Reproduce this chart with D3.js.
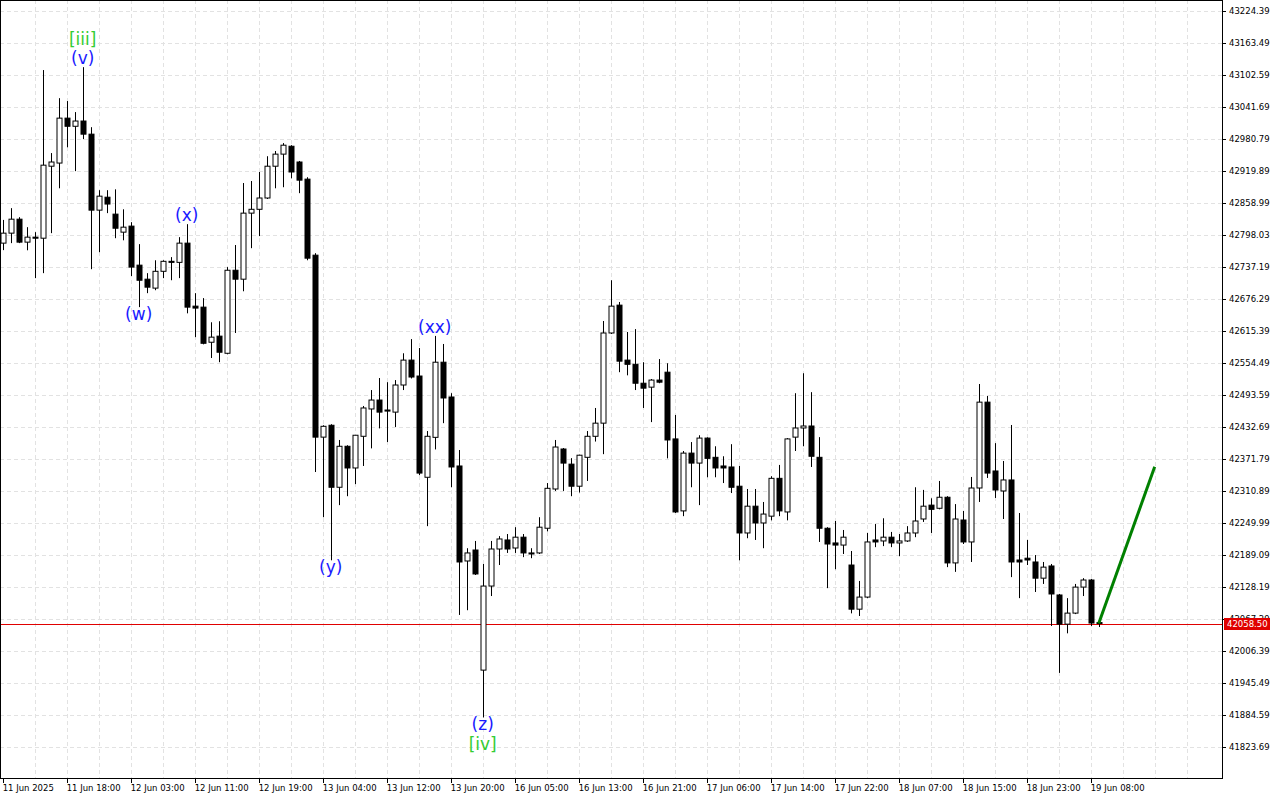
<!DOCTYPE html>
<html>
<head>
<meta charset="utf-8">
<script src="https://cdn.jsdelivr.net/npm/d3@7"></script>
<style>
  body { margin: 0; background: #fff; }
  svg text { font-family: "DejaVu Sans", sans-serif; }
</style>
</head>
<body>
<svg id="mainChart"></svg>
<script>
// Hourly candles, [open, high, low, close]
const candles = [
  [42782.6,42826.8,42769.3,42801.6],[42801.6,42849.2,42782.6,42828.2],[42828.2,42832.0,42782.6,42784.5],
  [42784.5,42813.0,42769.0,42794.0],[42794.0,42803.5,42716.0,42792.0],[42792.0,43112.0,42725.5,42931.0],
  [42929.0,42954.0,42801.6,42937.0],[42935.0,43058.5,42887.0,43020.5],[43020.5,43053.0,42965.0,43005.0],
  [43005.0,43032.0,42919.6,43015.0],[43015.0,43117.5,42980.5,42990.0],[42990.0,43003.3,42733.0,42845.4],
  [42845.4,42883.4,42765.4,42872.0],[42870.0,42883.4,42839.7,42857.0],[42837.8,42885.0,42792.0,42811.0],
  [42803.5,42847.0,42788.0,42813.0],[42815.0,42822.5,42720.0,42737.0],[42740.7,42780.7,42660.8,42712.0],
  [42714.0,42725.5,42687.4,42698.8],[42697.0,42750.0,42693.0,42729.0],[42729.0,42750.0,42716.0,42748.0],
  [42748.0,42756.0,42712.0,42746.0],[42746.0,42794.0,42716.0,42782.6],[42782.6,42818.7,42649.0,42660.8],
  [42662.7,42687.4,42603.7,42659.0],[42660.8,42678.0,42590.0,42592.0],[42594.0,42632.0,42564.0,42603.7],
  [42605.6,42634.0,42556.0,42575.0],[42573.0,42737.0,42571.0,42731.0],[42731.0,42779.0,42611.6,42714.0],
  [42714.0,42897.0,42691.0,42839.7],[42839.7,42900.8,42773.0,42847.0],[42847.0,42918.0,42796.0,42868.5],
  [42868.5,42948.0,42866.6,42929.0],[42929.0,42957.9,42887.0,42952.0],[42952.0,42973.0,42889.0,42969.0],
  [42967.0,42969.0,42906.0,42918.0],[42937.0,42939.0,42877.7,42902.5],[42904.4,42908.0,42750.0,42754.0],
  [42759.7,42763.5,42347.0,42413.4],[42413.4,42436.0,42261.0,42434.0],[42436.0,42438.0,42179.0,42318.0],
  [42318.0,42408.0,42284.0,42396.0],[42396.0,42398.0,42301.0,42354.7],[42354.7,42417.0,42324.0,42417.0],
  [42415.0,42472.7,42358.5,42468.9],[42467.0,42503.0,42392.0,42484.0],[42484.0,42525.9,42430.0,42461.0],
  [42465.0,42518.0,42404.0,42463.0],[42461.0,42522.0,42432.7,42512.6],[42512.6,42573.0,42503.0,42560.0],
  [42560.0,42600.0,42525.0,42527.8],[42529.7,42583.0,42341.0,42345.0],[42337.0,42425.0,42244.0,42415.0],
  [42413.0,42606.0,42390.0,42556.0],[42556.0,42590.7,42440.0,42487.9],[42489.8,42497.0,42318.0,42356.6],
  [42358.5,42388.9,42075.0,42175.8],[42177.7,42202.0,42084.0,42193.0],[42198.6,42215.8,42151.0,42153.0],
  [41970.0,42172.0,41880.0,42130.0],[42130.0,42215.8,42111.0,42200.5],[42200.5,42225.0,42170.0,42219.6],
  [42217.7,42229.0,42193.0,42200.5],[42202.4,42242.0,42193.0,42223.0],[42223.0,42229.0,42185.0,42193.0],
  [42193.0,42202.0,42183.0,42191.0],[42193.0,42261.0,42191.0,42242.0],[42240.0,42326.0,42234.0,42316.0],
  [42314.7,42408.0,42311.0,42394.6],[42390.8,42392.7,42311.0,42364.0],[42362.0,42373.4,42301.0,42320.0],
  [42320.0,42380.0,42308.0,42379.0],[42375.0,42425.0,42330.0,42415.0],[42415.0,42468.9,42405.0,42440.0],
  [42440.0,42634.4,42381.0,42611.6],[42611.6,42712.0,42609.7,42662.7],[42664.6,42670.6,42537.0,42558.0],
  [42560.0,42613.5,42531.0,42552.0],[42552.0,42619.0,42503.0,42516.0],[42516.0,42556.0,42468.9,42506.6],
  [42508.5,42524.0,42442.0,42522.0],[42522.0,42562.0,42516.0,42518.0],[42537.0,42554.0,42373.0,42408.0],
  [42410.0,42455.6,42269.0,42271.0],[42273.0,42387.0,42263.0,42383.0],[42383.0,42404.0,42318.0,42364.0],
  [42364.0,42417.0,42284.0,42411.6],[42411.6,42413.0,42337.0,42373.0],[42375.0,42396.0,42337.0,42354.7],
  [42358.5,42377.0,42326.0,42354.7],[42356.6,42400.0,42307.0,42318.0],[42320.0,42358.5,42179.0,42231.0],
  [42231.0,42314.7,42221.0,42282.0],[42282.0,42314.7,42217.7,42250.0],[42250.0,42290.0,42202.0,42267.0],
  [42263.0,42339.0,42255.0,42335.0],[42335.0,42360.5,42263.0,42273.0],[42271.0,42411.6,42255.0,42410.0],
  [42413.4,42497.0,42387.0,42430.8],[42430.8,42535.0,42396.0,42434.6],[42434.6,42499.0,42356.6,42377.0],
  [42375.0,42413.4,42213.9,42240.0],[42240.0,42242.0,42126.0,42210.0],[42212.0,42253.8,42162.0,42208.0],
  [42208.0,42236.7,42191.0,42223.0],[42170.0,42196.7,42078.0,42086.0],[42086.0,42139.7,42073.0,42109.0],
  [42109.0,42231.0,42107.0,42213.9],[42217.7,42248.0,42204.0,42213.9],[42215.8,42259.0,42206.0,42223.0],
  [42223.0,42233.0,42204.0,42212.0],[42212.0,42229.0,42187.0,42215.8],[42215.8,42244.0,42213.9,42231.0],
  [42231.0,42318.0,42223.0,42253.8],[42257.6,42313.0,42252.0,42282.0],[42284.0,42297.0,42231.0,42276.0],
  [42278.0,42330.0,42276.0,42299.0],[42299.0,42301.0,42166.0,42174.0],[42174.0,42286.0,42157.0,42257.6],
  [42255.7,42273.0,42210.0,42213.9],[42213.9,42337.6,42175.8,42316.6],[42316.6,42514.5,42290.0,42480.0],
  [42480.0,42491.7,42335.7,42345.0],[42349.0,42402.0,42297.6,42312.8],[42310.9,42368.0,42257.6,42331.9],
  [42331.9,42436.5,42147.0,42175.8],[42179.6,42269.0,42107.0,42175.8],[42183.0,42217.7,42170.0,42179.6],
  [42175.8,42189.0,42118.7,42145.0],[42145.0,42175.8,42134.0,42166.0],[42168.2,42172.0,42054.0,42114.9],
  [42113.0,42115.0,41964.7,42057.5],[42057.5,42107.0,42040.0,42078.5],[42078.5,42134.0,42076.6,42128.0],
  [42128.0,42145.0,42111.0,42141.5],[42141.5,42143.6,42054.0,42059.6],[42060.5,42063.0,42052.0,42058.5]
];

const yTicks = [43224.39,43163.49,43102.59,43041.69,42980.79,42919.89,42858.99,42798.03,42737.19,
  42676.29,42615.39,42554.49,42493.59,42432.69,42371.79,42310.89,42249.99,42189.09,42128.19,
  42067.29,42006.39,41945.49,41884.59,41823.69];

const xLabelIdx = [0,8,16,24,32,40,48,56,64,72,80,88,96,104,112,120,128,136];
const xLabels = ["11 Jun 2025","11 Jun 18:00","12 Jun 03:00","12 Jun 11:00","12 Jun 19:00",
  "13 Jun 04:00","13 Jun 12:00","13 Jun 20:00","16 Jun 05:00","16 Jun 13:00","16 Jun 21:00",
  "17 Jun 06:00","17 Jun 14:00","17 Jun 22:00","18 Jun 07:00","18 Jun 15:00","18 Jun 23:00",
  "19 Jun 08:00"];

const waveLabels = [
  { i: 10, price: 43117.5, text: "(v)", pos: "above", color: "#1a1aff" },
  { i: 10, price: 43117.5, text: "[iii]", pos: "above2", color: "#33cc33" },
  { i: 17, price: 42660.8, text: "(w)", pos: "below", color: "#1a1aff" },
  { i: 23, price: 42818.7, text: "(x)", pos: "above", color: "#1a1aff" },
  { i: 41, price: 42179.0, text: "(y)", pos: "below", color: "#1a1aff" },
  { i: 54, price: 42606.0, text: "(xx)", pos: "above", color: "#1a1aff" },
  { i: 60, price: 41880.0, text: "(z)", pos: "below", color: "#1a1aff" },
  { i: 60, price: 41880.0, text: "[iv]", pos: "below2", color: "#33cc33" }
];

const forecast = [[137, 42058.5], [144, 42357.0]];
const lastPrice = 42058.50;

// Setup
const W = 1280, H = 800, plotR = 1222, plotB = 778;
const svg = d3.select("#mainChart").attr("width", W).attr("height", H);

const x = d3.scaleLinear().domain([0, 1]).range([2.7, 10.7]);
const y = d3.scaleLinear().domain([41823.69, 43224.39]).range([747, 11]);

// Grid
const grid = svg.append("g").attr("stroke", "#e2e2e2").attr("stroke-dasharray", "4,3");
grid.selectAll("line.h").data(yTicks).join("line")
  .attr("x1", 0).attr("x2", plotR).attr("y1", d => Math.round(y(d)) + 0.5).attr("y2", d => Math.round(y(d)) + 0.5);
grid.selectAll("line.v").data(d3.range(4, 152, 4)).join("line")
  .attr("x1", d => Math.round(x(d)) + 0.5).attr("x2", d => Math.round(x(d)) + 0.5)
  .attr("y1", 0).attr("y2", plotB);

// Last price line
svg.append("line").attr("x1", 0).attr("x2", plotR)
  .attr("y1", Math.round(y(lastPrice)) + 0.5).attr("y2", Math.round(y(lastPrice)) + 0.5)
  .attr("stroke", "#e00000").attr("stroke-width", 1);

// Candles
const cg = svg.append("g");
cg.selectAll("line").data(candles).join("line")
  .attr("x1", (d, i) => Math.round(x(i)) + 0.5).attr("x2", (d, i) => Math.round(x(i)) + 0.5)
  .attr("y1", d => y(d[1])).attr("y2", d => y(d[2]))
  .attr("stroke", "#000").attr("stroke-width", 1);
cg.selectAll("rect").data(candles).join("rect")
  .attr("x", (d, i) => Math.round(x(i)) - 2)
  .attr("y", d => y(Math.max(d[0], d[3])))
  .attr("width", 5)
  .attr("height", d => Math.max(1, Math.abs(y(d[0]) - y(d[3]))))
  .attr("fill", d => d[3] >= d[0] ? "#fff" : "#000")
  .attr("stroke", "#000").attr("stroke-width", 1);

// Forecast line
svg.append("path").datum(forecast)
  .attr("d", d3.line().x(d => x(d[0])).y(d => y(d[1])))
  .attr("stroke", "#008000").attr("stroke-width", 3).attr("fill", "none");

// Wave labels
const off = { above: -8, above2: -27, below: 8, below2: 28 };
svg.append("g").selectAll("text").data(waveLabels).join("text")
  .attr("x", d => x(d.i)).attr("y", d => y(d.price) + off[d.pos])
  .attr("text-anchor", "middle").attr("dominant-baseline", "middle")
  .attr("font-size", 17).attr("fill", d => d.color).text(d => d.text);

// Frame
svg.append("rect").attr("x", 0.5).attr("y", 0.5).attr("width", plotR).attr("height", plotB)
  .attr("fill", "none").attr("stroke", "#000");

// Y axis
const ya = svg.append("g").attr("font-size", 8.5);
ya.selectAll("line").data(yTicks).join("line")
  .attr("x1", plotR).attr("x2", plotR + 4)
  .attr("y1", d => Math.round(y(d)) + 0.5).attr("y2", d => Math.round(y(d)) + 0.5).attr("stroke", "#000");
ya.selectAll("text").data(yTicks).join("text")
  .attr("x", plotR + 7).attr("y", d => y(d) + 3).attr("fill", "#000").text(d => d.toFixed(2));

// Price tag
const py = Math.round(y(lastPrice));
svg.append("rect").attr("x", plotR + 2).attr("y", py - 6).attr("width", 46).attr("height", 12).attr("fill", "#e00000");
svg.append("text").attr("x", plotR + 5).attr("y", py + 3).attr("font-size", 8.5).attr("fill", "#fff")
  .text(lastPrice.toFixed(2));

// X axis
const xa = svg.append("g").attr("font-size", 8.5);
xa.selectAll("line").data(xLabelIdx).join("line")
  .attr("x1", d => Math.round(x(d)) + 0.5).attr("x2", d => Math.round(x(d)) + 0.5)
  .attr("y1", plotB).attr("y2", plotB + 5).attr("stroke", "#000");
xa.selectAll("text").data(xLabelIdx).join("text")
  .attr("x", d => x(d)).attr("y", plotB + 13).attr("fill", "#000")
  .text((d, i) => xLabels[i]);
</script>
</body>
</html>
